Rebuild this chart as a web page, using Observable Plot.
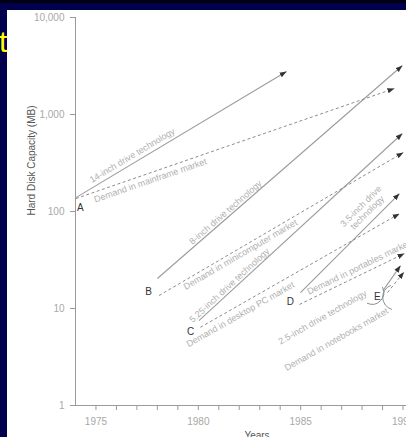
<!DOCTYPE html>
<html>
<head>
<meta charset="utf-8">
<script src="https://cdn.jsdelivr.net/npm/d3@7"></script>
<script src="https://cdn.jsdelivr.net/npm/@observablehq/plot@0.6"></script>
<style>
  html, body { margin: 0; padding: 0; overflow: hidden; width: 406px; height: 437px; background: #00004d; }
  #topbar { position: absolute; left: 0; top: 0; width: 406px; height: 3px; background: #000012; }
  #panel { position: absolute; left: 7px; top: 10px; width: 399px; height: 427px; background: #ffffff; }
  #chart { position: absolute; left: 0; top: 0; }
  #title { position: absolute; left: -1px; top: 27px; color: #ffff00; font: 30px/30px "Liberation Sans", Arial, sans-serif; }
</style>
</head>
<body>
<div id="topbar"></div>
<div id="panel"></div>
<div id="chart"></div>
<div id="title">t</div>
<script>
// ---- data ----
const techNames = ["14-inch", "8-inch", "5.25-inch", "3.5-inch", "2.5-inch"];
const techStartYear = [1974.02, 1978.0, 1980.03, 1984.99, 1989.02];
const techStartMB = [139, 20.4, 7.5, 14.6, 15.3];
const techEndYear = [1984.31, 1989.97, 1989.97, 1989.83, 1989.88];
const techEndMB = [2780, 3200, 637, 153, 27.7];

const demandNames = ["mainframe", "minicomputer", "desktop PC", "portables", "notebooks"];
const demandStartYear = [1974.02, 1978.08, 1980.1, 1984.94, 1989.24];
const demandStartMB = [136, 13.6, 6.4, 11.0, 14.6];
const demandEndYear = [1989.58, 1990.02, 1989.83, 1990.07, 1990.05];
const demandEndMB = [1854, 406, 95, 36.9, 23.8];

const labelText = [
  "14-inch drive technology", "Demand in mainframe market",
  "8-inch drive technology", "Demand in minicomputer market",
  "5.25-inch drive technology", "Demand in desktop PC market",
  "3.5-inch drive\ntechnology", "Demand in portables market",
  "2.5-inch drive technology", "Demand in notebooks market"
];
const labelYear = [1976.78, 1977.66, 1981.33, 1982.06, 1981.52, 1982.06, 1988.1, 1987.83, 1986.07, 1986.75];
const labelMB = [378, 209, 97.6, 36.0, 17.3, 8.7, 105, 26.5, 8.1, 4.8];
const labelLine = ["t0", "d0", "t1", "d1", "t2", "d2", "t3", "d3", "d2", "d2"];

const pointNames = ["A", "B", "C", "D", "E"];
const pointYear = [1974.24, 1977.57, 1979.62, 1984.5, 1988.75];
const pointMB = [110, 15.0, 5.8, 11.8, 13.3];

const arcStartYear = [1988.26, 1989.39];
const arcStartMB = [11.3, 17.3];
const arcEndYear = [1989.0, 1989.44];
const arcEndMB = [16.5, 9.8];

const xTickYears = [1975,1976,1977,1978,1979,1980,1981,1982,1983,1984,1985,1986,1987,1988,1989,1990];
const xTickLabels = ["1975","","","","","1980","","","","","1985","","","","","1990"];
const yTicks = [1, 10, 100, 1000, 10000];

// ---- build tables ----
const tech = techNames.map((n, i) => ({n, x1: techStartYear[i], y1: techStartMB[i], x2: techEndYear[i], y2: techEndMB[i]}));
const demand = demandNames.map((n, i) => ({n, x1: demandStartYear[i], y1: demandStartMB[i], x2: demandEndYear[i], y2: demandEndMB[i]}));
const lineById = {};
tech.forEach((d, i) => lineById["t" + i] = d);
demand.forEach((d, i) => lineById["d" + i] = d);

const W = 406, H = 437, mL = 75, mR = 0, mT = 17, mB = 32;
const xDomain = [1974, 1990.17], yDomain = [1, 10000];
const xs = d3.scaleLinear(xDomain, [mL, W - mR]);
const ys = d3.scaleLog(yDomain, [H - mB, mT]);
const angleOf = d => Math.atan2(ys(d.y2) - ys(d.y1), xs(d.x2) - xs(d.x1)) * 180 / Math.PI;

const labels = labelText.map((t, i) => ({t, x: labelYear[i], y: labelMB[i], r: angleOf(lineById[labelLine[i]])}));
const points = pointNames.map((n, i) => ({n, x: pointYear[i], y: pointMB[i]}));
const arcs = arcStartYear.map((v, i) => ({x1: v, y1: arcStartMB[i], x2: arcEndYear[i], y2: arcEndMB[i]}));

const svg = Plot.plot({
  width: W, height: H,
  marginLeft: mL, marginRight: mR, marginTop: mT, marginBottom: mB,
  style: {background: "transparent", color: "#a0a0a0", fontFamily: "'Liberation Sans', Arial, sans-serif", fontSize: "10px", overflow: "visible"},
  x: {domain: xDomain, axis: null},
  y: {type: "log", domain: yDomain, axis: null},
  marks: [
    Plot.ruleX([xDomain[0]], {stroke: "#9a9a9a"}),
    Plot.ruleY([yDomain[0]], {stroke: "#9a9a9a"}),
    Plot.axisY({ticks: yTicks, tickFormat: ",", tickSize: 5, tickPadding: 6, stroke: "#9a9a9a", fill: "#a8a8a8", fontSize: 10, label: null}),
    Plot.axisX({ticks: xTickYears, tickFormat: (d) => xTickLabels[xTickYears.indexOf(d)], tickSize: 5, tickPadding: 7, stroke: "#9a9a9a", fill: "#a8a8a8", fontSize: 10, label: null}),
    Plot.link(tech, {x1: "x1", y1: "y1", x2: "x2", y2: "y2", stroke: "#9c9c9c", strokeWidth: 1.1}),
    Plot.link(demand, {x1: "x1", y1: "y1", x2: "x2", y2: "y2", stroke: "#8c8c8c", strokeWidth: 1, strokeDasharray: "3,2.5"}),
    Plot.arrow(arcs, {x1: "x1", y1: "y1", x2: "x2", y2: "y2", bend: -70, headLength: 0, stroke: "#8c8c8c", strokeWidth: 1}),
    Plot.text(labels, {x: "x", y: "y", text: "t", rotate: "r", fill: "#b0b0b0", fontSize: 9}),
    Plot.text(points, {x: "x", y: "y", text: "n", fill: "#333333", fontSize: 10}),
    Plot.text(["Hard Disk Capacity (MB)"], {frameAnchor: "left", dx: -44, dy: 4, rotate: -90, fill: "#555555", fontSize: 10}),
    Plot.text(["Years"], {frameAnchor: "bottom", dx: 16, dy: 26, lineAnchor: "top", fill: "#555555", fontSize: 10})
  ]
});

// filled arrowheads at the end of every trajectory
const root = d3.select(svg);
const defs = root.insert("defs", ":first-child");
defs.append("marker")
  .attr("id", "ahead").attr("viewBox", "0 -3 7 6").attr("refX", 7).attr("refY", 0)
  .attr("markerWidth", 7).attr("markerHeight", 6).attr("markerUnits", "userSpaceOnUse").attr("orient", "auto")
  .append("path").attr("d", "M0,-2.6L7,0L0,2.6Z").attr("fill", "#333");
root.selectAll('g[aria-label="link"] path').attr("marker-end", "url(#ahead)");

document.getElementById("chart").appendChild(svg);
</script>
</body>
</html>
